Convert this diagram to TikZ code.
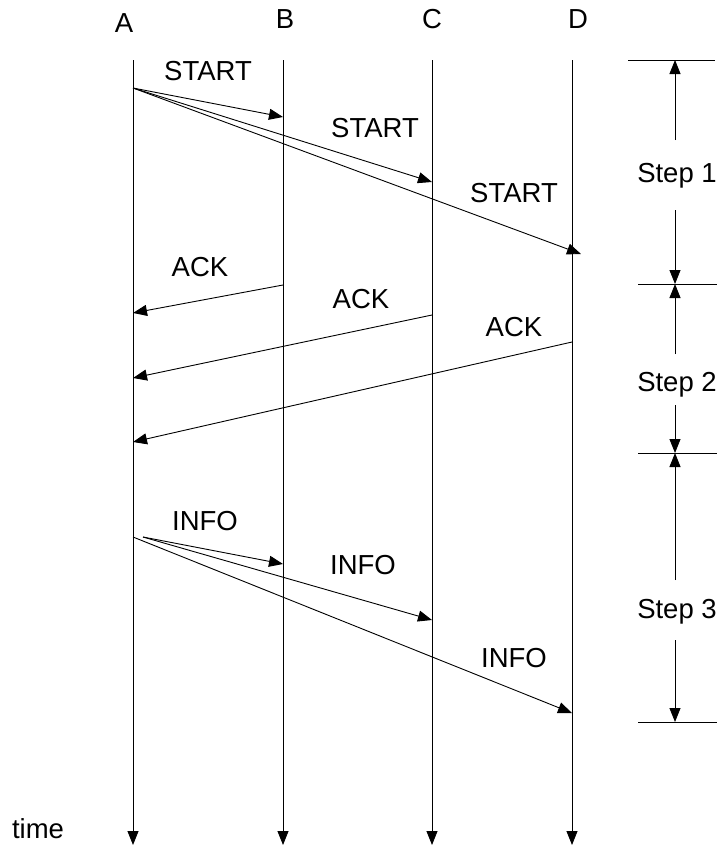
\documentclass[tikz,border=0pt]{standalone}
\usepackage{fontspec}
\setmainfont{Liberation Sans}
\usetikzlibrary{arrows.meta}
\begin{document}
\begin{tikzpicture}[x=1pt,y=-1pt,
  line width=0.9pt,
  lbl/.style={inner sep=0pt,text height=20pt,text depth=0pt,font=\fontsize{27.5}{32}\selectfont},
  msg/.style={-{Triangle[length=14pt,width=11pt]}},
  life/.style={-{Triangle[length=14pt,width=11pt]}},
  tick/.style={line width=0.9pt}]
\useasboundingbox (0,0) rectangle (717,846);

% lifeline names
\node[lbl] (nA) at (124,22) {A};
\node[lbl] (nB) at (285,18) {B};
\node[lbl] (nC) at (432,18) {C};
\node[lbl] (nD) at (578,18) {D};

% lifelines
\coordinate (tA) at (133,60);  \coordinate (bA) at (133,845);
\coordinate (tB) at (283,60);  \coordinate (bB) at (283,845);
\coordinate (tC) at (432,60);  \coordinate (bC) at (432,845);
\coordinate (tD) at (572,60);  \coordinate (bD) at (572,845);
\draw[life] (tA) -- (bA);
\draw[life] (tB) -- (bB);
\draw[life] (tC) -- (bC);
\draw[life] (tD) -- (bD);
\node[lbl] (time) at (38,828) {time};

% step 1: START
\coordinate (s0) at (133,88);
\coordinate (sB) at (283,117);
\coordinate (sC) at (432,182);
\coordinate (sD) at (581,254);
\draw[msg] (s0) -- (sB);
\draw[msg] (s0) -- (sC);
\draw[msg] (s0) -- (sD);
\node[lbl] (start1) at (208,70) {START};
\node[lbl] (start2) at (375,127) {START};
\node[lbl] (start3) at (514,192) {START};

% step 2: ACK
\coordinate (aB) at (283,285);  \coordinate (aB2) at (133,313);
\coordinate (aC) at (432,315);  \coordinate (aC2) at (133,378);
\coordinate (aD) at (572,342);  \coordinate (aD2) at (133,442);
\draw[msg] (aB) -- (aB2);
\draw[msg] (aC) -- (aC2);
\draw[msg] (aD) -- (aD2);
\node[lbl] (ack1) at (200,266) {ACK};
\node[lbl] (ack2) at (361,298) {ACK};
\node[lbl] (ack3) at (514,326) {ACK};

% step 3: INFO
\coordinate (i0) at (133,537);
\coordinate (i1) at (143,537);
\coordinate (iB) at (283,564);
\coordinate (iC) at (432,620);
\coordinate (iD) at (572,713);
\draw[msg] (i0) -- (iD);
\draw[msg] (i1) -- (iB);
\draw[msg] (i1) -- (iC);
\node[lbl] (info1) at (205,520) {INFO};
\node[lbl] (info2) at (363,564) {INFO};
\node[lbl] (info3) at (514,657) {INFO};

% step markers on the right
\coordinate (m0) at (675,60);
\coordinate (m1) at (675,284);
\coordinate (m2) at (675,453);
\coordinate (m3) at (675,722);
\draw[tick] (628,60) -- (715,60);
\draw[tick] (638,284) -- (717,284);
\draw[tick] (638,453) -- (717,453);
\draw[tick] (638,722) -- (717,722);

\node[lbl] (step1) at (677,172) {Step 1};
\node[lbl] (step2) at (677,381) {Step 2};
\node[lbl] (step3) at (677,608) {Step 3};

\draw[msg] (675,140) -- (m0);
\draw[msg] (675,210) -- (m1);
\draw[msg] (675,354) -- (m1);
\draw[msg] (675,405) -- (m2);
\draw[msg] (675,580) -- (m2);
\draw[msg] (675,640) -- (m3);
\end{tikzpicture}
\end{document}
